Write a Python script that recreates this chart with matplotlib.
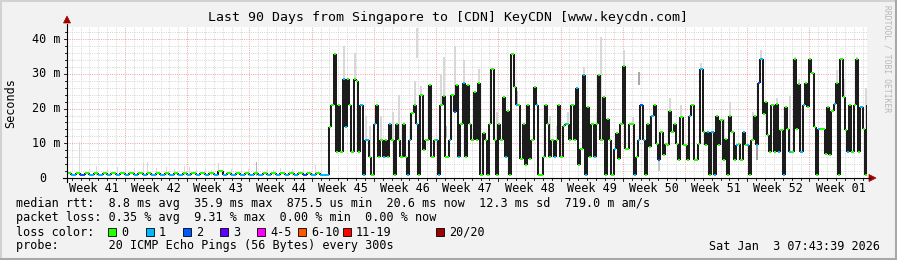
import matplotlib
matplotlib.use('Agg')
import matplotlib.pyplot as plt
from matplotlib.patches import Rectangle, Polygon

W, H = 897, 260
X0, X1 = 67, 867          # plot area, pixels
Y0, Y1 = 178, 27.3
DAYS = 90
PX_MS = 3.47
YMAX = (Y0 - Y1) / PX_MS

title = "Last 90 Days from Singapore to [CDN] KeyCDN [www.keycdn.com]"
week_labels = ["Week 41", "Week 42", "Week 43", "Week 44", "Week 45", "Week 46", "Week 47",
               "Week 48", "Week 49", "Week 50", "Week 51", "Week 52", "Week 01"]
first_week_line = 6.525   # day of first monday line
y_ticks = [0, 10, 20, 30, 40]
y_tick_labels = ["0  ", "10 m", "20 m", "30 m", "40 m"]

# early part: half-day steps from day 0, median in ms, loss count
early_median = [1.3, 0.9, 1.3, 0.9, 1.3, 0.9, 1.3, 0.9, 1.3, 0.9,
                1.3, 0.9, 1.3, 0.9, 1.3, 0.9, 1.3, 0.9, 1.3, 0.9,
                1.3, 0.9, 1.3, 0.9, 1.3, 0.9, 1.3, 0.9, 1.3, 0.9,
                1.3, 0.9, 1.3, 0.9, 2.0, 0.9, 1.3, 0.9, 1.3, 0.9,
                1.3, 0.9, 1.3, 0.9, 1.3, 0.9, 1.3, 0.9, 1.3, 0.9,
                1.3, 0.9, 1.3, 0.9, 1.3, 0.9, 1.3, 0.9, 0.9]
early_loss = [0, 1, 0, 2, 0, 1, 0, 1, 0, 1,
              0, 1, 0, 1, 0, 1, 0, 1, 0, 1,
              0, 1, 0, 1, 0, 1, 0, 1, 0, 1,
              0, 1, 0, 1, 0, 1, 0, 1, 0, 1,
              0, 1, 0, 1, 0, 1, 0, 1, 0, 1,
              0, 1, 0, 2, 0, 1, 0, 1, 1]
early_step = 0.5
early_smoke = [(1.4, 10.5), (2.5, 2.6), (3.3, 3.5), (4.5, 2.5), (5.6, 3.2), (6.5, 2.4),
               (7.5, 3.0), (8.5, 4.7), (9.0, 4.5), (10.0, 2.8), (11.1, 3.2), (12.0, 2.7),
               (13.2, 3.6), (13.7, 3.2), (14.5, 2.6), (15.5, 2.9), (16.2, 2.4), (17.0, 4.4),
               (18.5, 2.6), (19.6, 2.3), (20.4, 2.5), (22.5, 2.7), (23.2, 2.4), (24.0, 2.8),
               (25.3, 2.6), (26.5, 2.5), (27.9, 3.7), (28.6, 2.4)]
early_dark_smoke = [(21.3, 4.6)]

# late part: 6-hour steps from day 29.5
late_start = 29.5
late_step = 0.25
late_median = [
    14.7, 21, 35.6, 7.5, 21, 7.5, 28.5, 14.7, 28.5, 21,
    7.5, 28.5, 28, 7.5, 21, 0.9, 11, 11, 6, 0.9,
    15.5, 21, 6, 11, 6, 11, 6, 15.5, 11, 0.9,
    15.5, 11, 6, 15.5, 6, 0.9, 11, 18.8, 21, 15.5,
    0.9, 24, 8, 11, 11, 26.8, 6, 11, 11, 0.9,
    21, 23.6, 6, 6, 11, 24, 19, 26.8, 6, 15.5,
    27.3, 6, 26.8, 15.5, 11, 24.7, 11, 27.3, 0.9, 13,
    11, 0.9, 15.5, 31.5, 11, 0.9, 15.5, 11, 23.4, 6,
    19.2, 0.9, 35.6, 26.1, 21, 21, 5.6, 15.5, 3.7, 21,
    5.6, 11, 26.1, 21, 0.9, 0.9, 6, 21, 15.5, 6,
    11, 6, 11, 21, 6, 15, 15.5, 15.5, 11, 21,
    11, 25.8, 3.7, 8.5, 29.6, 0.9, 20.5, 6, 15.5, 6,
    15.5, 29.6, 11, 23.4, 0.9, 17, 11, 0.9, 8.5, 13,
    5.6, 15.5, 32.3, 8.5, 8.5, 15.5, 15.5, 0.9, 6, 11,
    21, 11, 0.9, 15.5, 9, 18, 21, 9.9, 5.1, 13.2,
    6.5, 9.9, 9.5, 19.4, 13.2, 15.5, 9.9, 5.1, 17.6, 9.5,
    9.5, 5.1, 18, 21, 5.1, 5.1, 9.9, 31.5, 13.2, 9.5,
    13.2, 0.9, 13.2, 0.9, 18, 9.5, 16.6, 5.1, 11.3, 0.9,
    18, 13.2, 5.1, 9.5, 9.9, 5.1, 13.2, 9.5, 9.5, 0.9,
    11, 18, 9.5, 27.5, 34.2, 18.5, 21.8, 12.3, 7.5, 20.9,
    7.5, 21.3, 7.5, 13.7, 0.9, 20.4, 14.2, 7.5, 7.5, 34.2,
    14.2, 27, 7.5, 20.9, 27.5, 20.4, 34.2, 30.4, 14.7, 0.9,
    14.2, 14.2, 14.2, 7, 20.4, 6.6, 19.4, 21.3, 27.5, 0.9,
    34.2, 23.2, 13.7, 7.5, 20.9, 7.5, 20.9, 34.2, 7.5, 20.4,
    14.2, 0.9, 20.9]
late_loss1 = [6, 7, 14, 15, 16, 17, 20, 24, 27, 35, 36, 39, 48, 49, 54, 58, 60, 79, 84, 93,
              101, 106, 111, 114, 115, 119, 128, 137, 139, 141, 145, 162, 167, 170, 172, 173,
              183, 186, 188, 192, 194, 202, 204, 207, 212, 213, 220, 227, 233, 239]
late_loss2 = [56, 140, 148, 193]
late_smoke = [(6, 38), (11, 36), (16, 18), (18, 15), (23, 18), (28, 19), (31, 24), (33, 16),
              (36, 15), (38, 28), (41, 26.5), (50, 30), (51, 35), (56, 38), (57, 27), (60, 34),
              (62, 19), (67, 31.5), (75, 19), (78, 21), (84, 25), (89, 21), (93, 22), (99, 18),
              (102, 15), (107, 19), (114, 32), (120, 19), (122, 40.7), (132, 37), (136, 17.5),
              (153, 23), (158, 21), (167, 33), (177, 17), (180, 22), (190, 19), (194, 37),
              (201, 23), (207, 23.5), (209, 35), (211, 28.5), (216, 34.5), (228, 31),
              (231, 28.5), (237, 35), (241, 26)]
late_float_smoke = [(39, 34.5, 43.2, '#d8d8d8'), (139, 26.8, 30.6, '#a8a8a8'),
                    (52, 11.4, 15.1, '#b4b4b4'), (192, 5.1, 9.5, '#a0a0a0'),
                    (148, 2.0, 5.1, '#c8c8c8'), (84, 21, 25, '#b0b0b0')]

loss_colors = {0: '#26ff00', 1: '#00b8ff', 2: '#0059ff', 3: '#5e00ff',
               5: '#ff00ff', 10: '#ff5500', 19: '#ff0000', 20: '#a10000'}
legend_items = [("0", 0), ("1", 1), ("2", 2), ("3", 3), ("4-5", 5),
                ("6-10", 10), ("11-19", 19), ("20/20", 20)]
legend_box_x = [108, 146, 183, 220, 257, 298, 343, 436]

rtt_line = "median rtt:  8.8 ms avg  35.9 ms max  875.5 us min  20.6 ms now  12.3 ms sd  719.0 m am/s"
loss_line = "packet loss: 0.35 % avg  9.31 % max  0.00 % min  0.00 % now"
probe_line = "probe:       20 ICMP Echo Pings (56 Bytes) every 300s"
stamp = "Sat Jan  3 07:43:39 2026"

MONO = 'DejaVu Sans Mono'
FS = 8.5

fig = plt.figure(figsize=(W / 100, H / 100), dpi=100, facecolor='#f2f2f2')
ax = fig.add_axes([X0 / W, 1 - Y0 / H, (X1 - X0) / W, (Y0 - Y1) / H])
ax.set_facecolor('white')
ax.set_xlim(0, DAYS)
ax.set_ylim(0, YMAX)
for s in ax.spines.values():
    s.set_visible(False)
ax.set_xticks([])
ax.set_yticks([])

# grid
d = first_week_line - int(first_week_line)
while d < DAYS:
    major = abs(((d - first_week_line) / 7) - round((d - first_week_line) / 7)) < 1e-6
    ax.axvline(d, color='#f0a0a0' if major else '#d4d4d4', lw=0.7,
               ls=(0, (1, 1.3)), zorder=0)
    d += 1
for v in range(2, int(YMAX) + 1, 2):
    ax.axhline(v, color='#f0a0a0' if v % 10 == 0 else '#d4d4d4', lw=0.7,
               ls=(0, (1, 1.3)), zorder=0)

# smoke
for day, top in early_smoke:
    ax.vlines(day, 1.0, top, color='#d8d8d8', lw=0.72, zorder=1, antialiased=False)
for day, top in early_dark_smoke:
    ax.vlines(day, 1.0, top, color='#b4b4b4', lw=0.72, zorder=1, antialiased=False)
for k, top in late_smoke:
    x = late_start + (k + 0.5) * late_step
    ax.vlines(x, late_median[k], top, color='#d8d8d8', lw=1.44, zorder=1, antialiased=False)
for k, lo, hi, c in late_float_smoke:
    x = late_start + (k + 0.5) * late_step
    ax.vlines(x, lo, hi, color=c, lw=1.44, zorder=1, antialiased=False)

# median line: vertical connectors in black, horizontal parts in loss colour
xs, ys, cs = [], [], []
for i, v in enumerate(early_median):
    xs.append(i * early_step)
    ys.append(v)
    cs.append(loss_colors[early_loss[i]])
steps = [early_step] * len(early_median)
for k, v in enumerate(late_median):
    xs.append(late_start + k * late_step)
    ys.append(v)
    loss = 2 if k in late_loss2 else (1 if k in late_loss1 else 0)
    cs.append(loss_colors[loss])
    steps.append(late_step)
ax.vlines(xs[1:], ys[:-1], ys[1:], colors='#1c1c1c', lw=1.1, zorder=2, antialiased=False)
ax.hlines(ys, xs, [x + s for x, s in zip(xs, steps)], colors=cs, lw=1.44, zorder=3,
          antialiased=False)

# overlay in pixel coordinates
ov = fig.add_axes([0, 0, 1, 1], facecolor='none')
ov.set_xlim(0, W)
ov.set_ylim(H, 0)
ov.axis('off')

# frame
ov.add_patch(Rectangle((0, 0), W, H, fill=False, ec='#d2d2d2', lw=2.2))
ov.plot([1, W - 1, W - 1], [H - 1, H - 1, 1], color='#a8a8a8', lw=2.2)

def px(day):
    return X0 + day * (X1 - X0) / DAYS

# axes with arrows
ov.plot([X0, X0], [Y0 + 4, 24], color='black', lw=0.8)
ov.plot([X0 - 4, X1 + 3], [Y0, Y0], color='black', lw=0.8)
ov.add_patch(Polygon([[X0 - 3.5, 23], [X0 + 3.5, 23], [X0, 16]], closed=True,
                     fc='#a10000', ec='#a10000', lw=0.5))
ov.add_patch(Polygon([[X1 + 2, Y0 - 3.5], [X1 + 2, Y0 + 3.5], [X1 + 9, Y0]], closed=True,
                     fc='#a10000', ec='#a10000', lw=0.5))

# x ticks
d = first_week_line - int(first_week_line)
while d < DAYS:
    major = abs(((d - first_week_line) / 7) - round((d - first_week_line) / 7)) < 1e-6
    ov.plot([px(d), px(d)], [Y0, Y0 + (3 if major else 2)], color='black', lw=0.6)
    d += 1
# y ticks
for v in range(0, int(YMAX) + 1, 2):
    y = Y0 - v * PX_MS
    ov.plot([X0 - (3 if v % 10 == 0 else 2), X0], [y, y], color='black', lw=0.6)

for i, lab in enumerate(week_labels):
    ov.text(px(first_week_line - 3.5 + 7 * i), 188, lab, ha='center', va='center',
            family=MONO, fontsize=FS)
for v, lab in zip(y_ticks, y_tick_labels):
    ov.text(61, Y0 - v * PX_MS, lab, ha='right', va='center', family=MONO, fontsize=FS)

ov.text(W / 2 - 1, 18, title, ha='center', va='center', family=MONO, fontsize=9.5)
ov.text(11, 103, "Seconds", rotation=90, ha='center', va='center', family=MONO, fontsize=FS)
ov.text(887, 5, "RRDTOOL / TOBI OETIKER", rotation=270, ha='center', va='top',
        family=MONO, fontsize=5.8, color='#b8b8b8')

ov.text(16, 204, rtt_line, ha='left', va='center', family=MONO, fontsize=FS)
ov.text(16, 218, loss_line, ha='left', va='center', family=MONO, fontsize=FS)
ov.text(16, 232, "loss color:", ha='left', va='center', family=MONO, fontsize=FS)
for (lab, key), bx in zip(legend_items, legend_box_x):
    ov.add_patch(Rectangle((bx, 227.5), 8, 8, fc=loss_colors[key], ec='black', lw=0.6))
    ov.text(bx + 13, 232, lab, ha='left', va='center', family=MONO, fontsize=FS)
ov.text(16, 246, probe_line, ha='left', va='center', family=MONO, fontsize=FS)
ov.text(880, 246, stamp, ha='right', va='center', family=MONO, fontsize=FS)

fig.savefig('out.png', dpi=100, facecolor=fig.get_facecolor())
